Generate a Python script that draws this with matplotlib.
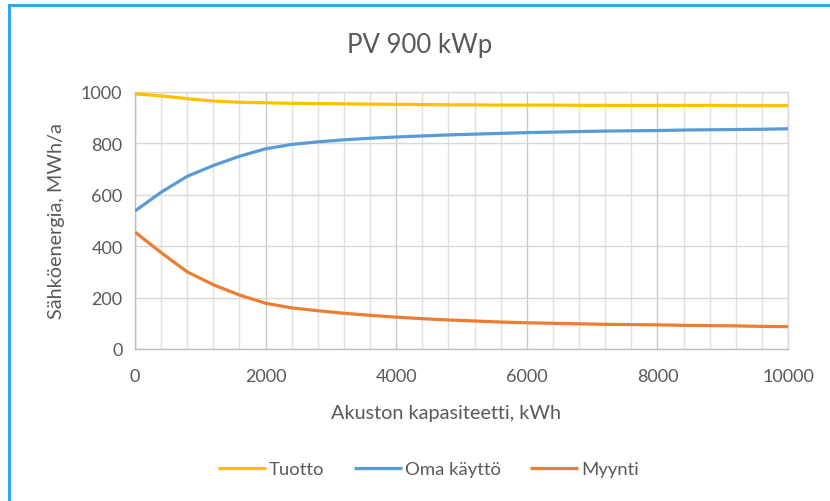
import matplotlib
matplotlib.use("Agg")
import matplotlib.pyplot as plt
from matplotlib.patches import Rectangle
from matplotlib.ticker import MultipleLocator

plt.rcParams['font.family'] = ['Lato', 'DejaVu Sans']

# Battery capacity (kWh)
capacity = [0, 400, 800, 1200, 1600, 2000, 2400, 2800, 3200, 3600, 4000, 4400, 4800,
            5200, 5600, 6000, 6400, 6800, 7200, 7600, 8000, 8400, 8800, 9200, 9600, 10000]

# Energy series (MWh/a)
tuotto = [993, 985, 974, 965, 960, 958, 956, 955, 954, 953, 952, 951, 950,
          950, 949, 949, 949, 948, 948, 948, 948, 948, 948, 947, 947, 947]
oma_kaytto = [537, 610, 672, 714, 750, 779, 796, 806, 814, 820, 825, 829, 833,
              836, 839, 842, 844, 846, 848, 849, 850, 852, 853, 854, 855, 857]
myynti = [455, 375, 300, 250, 210, 178, 160, 149, 139, 131, 124, 118, 113,
          109, 105, 102, 100, 98, 96, 95, 94, 92, 91, 90, 88, 87]

series_names = ["Tuotto", "Oma käyttö", "Myynti"]
colors = ["#FFC000", "#5B9BD5", "#ED7D31"]
text_color = "#595959"

fig = plt.figure(figsize=(8.3, 5.02), dpi=100)
W, H = 830, 502

# Outer frame
fig.patches.append(Rectangle((9 / W, -0.1), 1.2, 1 - 6 / H + 0.1,
                             transform=fig.transFigure, fill=False,
                             edgecolor="#2FA8E6", linewidth=2.2, zorder=0))

ax = fig.add_axes([135 / W, 1 - 350 / H, (788 - 135) / W, (350 - 93) / H])

for vals, name, c in zip([tuotto, oma_kaytto, myynti], series_names, colors):
    ax.plot(capacity, vals, color=c, linewidth=2.3, label=name,
            solid_capstyle="butt", zorder=3)

ax.set_xlim(0, 10000)
ax.set_ylim(0, 1000)
ax.xaxis.set_major_locator(MultipleLocator(2000))
ax.xaxis.set_minor_locator(MultipleLocator(400))
ax.yaxis.set_major_locator(MultipleLocator(200))

ax.grid(which="major", axis="x", color="#C8C8C8", linewidth=1.0)
ax.grid(which="minor", axis="x", color="#E0E0E0", linewidth=1.0)
ax.grid(which="major", axis="y", color="#D9D9D9", linewidth=1.0)
ax.set_axisbelow(True)

for side in ["left", "bottom"]:
    ax.spines[side].set_color("#BFBFBF")
    ax.spines[side].set_linewidth(1.0)
for side in ["top", "right"]:
    ax.spines[side].set_color("#D9D9D9")
    ax.spines[side].set_linewidth(1.0)

ax.tick_params(which="both", length=0, colors=text_color, labelsize=13)
ax.tick_params(axis="x", pad=14)
ax.tick_params(axis="y", pad=9)

ax.set_xlabel("Akuston kapasiteetti, kWh", fontsize=14.3, color=text_color, labelpad=10)
ax.xaxis.set_label_coords(0.477, -0.215)
ax.set_ylabel("Sähköenergia, MWh/a", fontsize=14.3, color=text_color, labelpad=10)
ax.yaxis.set_label_coords(-0.107, 0.5)

fig.text(0.506, 1 - 46 / H, "PV 900 kWp", ha="center", va="center",
         fontsize=18.5, color=text_color)

fig.legend(loc="center", bbox_to_anchor=(0.516, 1 - 470 / H), ncol=3, frameon=False,
           fontsize=13.3, labelcolor=text_color, handlelength=2.6,
           handletextpad=0.15, columnspacing=1.6)

fig.savefig("out.png", dpi=100, facecolor="white")
